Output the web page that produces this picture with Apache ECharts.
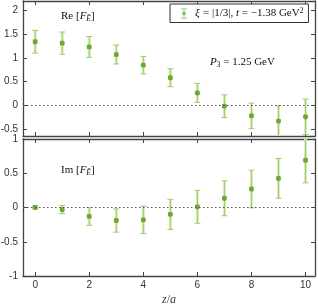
<!DOCTYPE html>
<html><head><meta charset="utf-8">
<script src="https://cdn.jsdelivr.net/npm/echarts@6/dist/echarts.min.js"></script>
<style>html,body{margin:0;padding:0;background:#fff}#c{width:318px;height:305px}</style>
</head><body><div id="c"></div>
<script>
const zVals = [0,1,2,3,4,5,6,7,8,9,10];
const reVals = [1.34,1.31,1.23,1.07,0.845,0.58,0.26,-0.02,-0.225,-0.335,-0.245];
const reErrs = [0.24,0.235,0.22,0.2,0.185,0.19,0.2,0.24,0.27,0.32,0.375];
const imVals = [0.0,-0.03,-0.13,-0.19,-0.18,-0.10,0.01,0.135,0.27,0.425,0.69];
const imErrs = [0.02,0.06,0.13,0.17,0.2,0.22,0.24,0.255,0.275,0.29,0.33];
const xTicks = [0,2,4,6,8,10];
const reTicks = [-0.5,0,0.5,1,1.5,2];
const imTicks = [-1,-0.5,0,0.5,1];
const seriesName = 'xi';

const AX = '#444';
function renderErr(params, api){
  const x = api.value(0), y = api.value(1), e = api.value(2);
  const c = api.coord([x,y]);
  const t = api.coord([x,y+e]);
  const b = api.coord([x,y-e]);
  const cs = params.coordSys;
  let ty = t[1], by = b[1];
  const capT = ty >= cs.y, capB = by <= cs.y + cs.height;
  ty = Math.max(ty, cs.y); by = Math.min(by, cs.y + cs.height);
  const ch = [
    {type:'rect', shape:{x:c[0]-1.5, y:ty, width:3, height:by-ty}, style:{fill:'#dcedc6'}},
    {type:'line', shape:{x1:c[0], y1:ty, x2:c[0], y2:by}, style:{stroke:'#9fcd66', lineWidth:1}}
  ];
  if (capT) ch.push({type:'line', shape:{x1:c[0]-3, y1:ty, x2:c[0]+3, y2:ty}, style:{stroke:'#9fcd66', lineWidth:1}});
  if (capB) ch.push({type:'line', shape:{x1:c[0]-3, y1:by, x2:c[0]+3, y2:by}, style:{stroke:'#9fcd66', lineWidth:1}});
  ch.push({type:'rect', shape:{x:c[0]-2.4, y:c[1]-2.4, width:4.8, height:4.8, r:1.4}, style:{fill:'#6aab2e'}});
  return {type:'group', children:ch};
}

const chart = echarts.init(document.getElementById('c'), null, {renderer:'canvas'});
const xMin = -0.45, xMax = 10.35;
function xAx(grid, pos, labels){
  return {type:'value', gridIndex:grid, position:pos, min:xMin, max:xMax,
    axisLine:{show:true, onZero:false, lineStyle:{color:AX, width:1.3}},
    axisTick:{show:true, inside:true, length:4, customValues:xTicks, lineStyle:{color:AX}},
    axisLabel:{show:labels, customValues:xTicks, color:'#333', fontSize:10, fontFamily:'Liberation Sans', margin:4},
    splitLine:{show:false},
    name: labels ? '{i|z}{n|/}{i|a}' : '', nameLocation:'middle', nameGap:18,
    nameTextStyle:{rich:{i:{fontFamily:'Liberation Serif', fontStyle:'italic', fontSize:12, color:'#333'}, n:{fontFamily:'Liberation Serif', fontSize:12, color:'#333'}}}
  };
}
function yAx(grid, pos, labels, min, max, ticks){
  return {type:'value', gridIndex:grid, position:pos, min:min, max:max,
    axisLine:{show:true, onZero:false, lineStyle:{color:AX, width:1.3}},
    axisTick:{show:true, inside:true, length:4, customValues:ticks, lineStyle:{color:AX}},
    axisLabel:{show:labels, customValues:ticks, color:'#333', fontSize:10, fontFamily:'Liberation Sans', margin:5},
    splitLine:{show:false}
  };
}
const zeroLine = {silent:true, symbol:'none', label:{show:false}, lineStyle:{type:[1.5,2.5], color:'#555', width:1}, data:[{yAxis:0}]};
const txtRich = {
  n:{fontFamily:'Liberation Serif', fontSize:11, fill:'#111'},
  i:{fontFamily:'Liberation Serif', fontStyle:'italic', fontSize:11, fill:'#111'},
  sub:{fontFamily:'Liberation Serif', fontStyle:'italic', fontSize:7.5, fill:'#111', verticalAlign:'bottom', padding:[6,0,0,0]}
};

chart.setOption({
  animation:false,
  backgroundColor:'#fff',
  grid:[
    {left:23, top:1, width:292, height:135, outerBoundsMode:'none', containLabel:false},
    {left:23, top:139, width:292, height:137, outerBoundsMode:'none', containLabel:false}
  ],
  xAxis:[xAx(0,'bottom',false), xAx(0,'top',false), xAx(1,'bottom',true), xAx(1,'top',false)],
  yAxis:[yAx(0,'left',true,-0.65,2.2,reTicks), yAx(0,'right',false,-0.65,2.2,reTicks),
         yAx(1,'left',true,-1,1,imTicks), yAx(1,'right',false,-1,1,imTicks)],
  legend:{
    left:170, top:4, orient:'horizontal', padding:[3,5,3,11], itemGap:4,
    backgroundColor:'#fff', borderColor:'#333', borderWidth:1, borderRadius:0,
    itemWidth:6, itemHeight:10,
    data:[{name:seriesName, icon:'path://M0,0H6V0.8H3.4V3.6H4.6V6.4H3.4V9.2H6V10H0V9.2H2.6V6.4H1.4V3.6H2.6V0.8H0Z', itemStyle:{color:'#7fbd45'}}],
    formatter:function(){ return '{i|ξ} {n|= |1/3|, }{i|t}{n| = −1.38 GeV}{s|2}'; },
    textStyle:{padding:[0,0,0,3], rich:{
      i:{fontFamily:'Liberation Serif', fontStyle:'italic', fontSize:11, color:'#111'},
      n:{fontFamily:'Liberation Serif', fontSize:11, color:'#111'},
      s:{fontFamily:'Liberation Serif', fontSize:7.5, color:'#111', verticalAlign:'top', padding:[0,0,5,0]}
    }}
  },
  series:[
    {name:seriesName, type:'custom', xAxisIndex:0, yAxisIndex:0, clip:true, renderItem:renderErr,
     itemStyle:{color:'#7fbd45'}, encode:{x:0,y:1},
     data: zVals.map((z,i)=>[z, reVals[i], reErrs[i]]), markLine:zeroLine, z:3},
    {name:seriesName, type:'custom', xAxisIndex:2, yAxisIndex:2, clip:true, renderItem:renderErr,
     itemStyle:{color:'#7fbd45'}, encode:{x:0,y:1},
     data: zVals.map((z,i)=>[z, imVals[i], imErrs[i]]), markLine:zeroLine, z:3}
  ],
  graphic:[
    {type:'text', left:61, top:11, style:{text:'{n|Re [}{i|F}{sub|Ẽ}{n|]}', rich:txtRich}},
    {type:'text', left:61, top:165, style:{text:'{n|Im [}{i|F}{sub|Ẽ}{n|]}', rich:txtRich}},
    {type:'text', left:210, top:57, style:{
      text:'{i|P}{sub|3}{n| = 1.25 GeV}',
      rich:{n:txtRich.n, i:txtRich.i, sub:{fontFamily:'Liberation Serif', fontSize:7.5, fill:'#111', verticalAlign:'bottom', padding:[5,0,0,0]}}
    }}
  ]
});
</script></body></html>
